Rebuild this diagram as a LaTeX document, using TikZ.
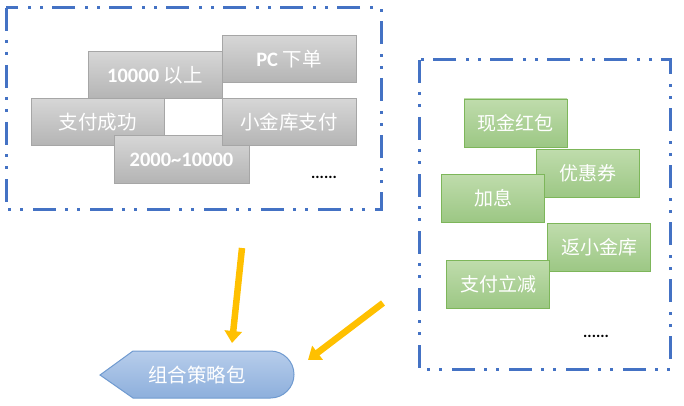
\documentclass[tikz,border=0pt]{standalone}
\usepackage{fontspec}
\setmainfont{Carlito}
\newfontfamily\cjk{Noto Sans CJK SC}
\usetikzlibrary{arrows.meta}
\definecolor{dashblue}{HTML}{4472C4}
\definecolor{gtop}{HTML}{D6D6D6}
\definecolor{gbot}{HTML}{B4B4B4}
\definecolor{gline}{HTML}{A6A6A6}
\definecolor{ntop}{HTML}{BFDCAC}
\definecolor{nbot}{HTML}{9CC784}
\definecolor{nline}{HTML}{7DB65A}
\definecolor{btop}{HTML}{B7CDEB}
\definecolor{bbot}{HTML}{8DAFDC}
\definecolor{bline}{HTML}{6F9AD0}
\definecolor{arrowc}{HTML}{FFC000}
\tikzset{
  groupframe/.style={draw=dashblue, line width=3pt,
    dash pattern=on 23pt off 9pt on 3pt off 9pt on 3pt off 10pt},
  graybox/.style={draw=gline, line width=1pt, top color=gtop, bottom color=gbot,
    minimum width=134pt, minimum height=47pt, inner sep=0pt, text=white,
    font=\fontsize{20.5}{22}\selectfont\bfseries},
  cjkg/.style={},
  greenbox/.style={draw=nline, line width=0.9pt, top color=ntop, bottom color=nbot,
    minimum width=103pt, minimum height=48pt, inner sep=0pt, text=white,
    font=\fontsize{19}{21}\selectfont\cjk},
  dots/.style={font=\fontsize{16}{18}\selectfont\bfseries, inner sep=0pt},
  bigarrow/.style={draw=arrowc, line width=6.5pt,
    -{Triangle[width=17pt,length=12pt]}},
}
\newcommand{\gcjk}[1]{{\fontsize{19.5}{21}\selectfont\cjk\mdseries #1}}
\begin{document}
\begin{tikzpicture}[x=1pt,y=-1pt]
\useasboundingbox (0,0) rectangle (684,406);
% frames
\draw[groupframe] (6,8) rectangle (381,209);
\draw[groupframe] (419,60) rectangle (670,369);
% gray boxes
\node[graybox] (g1) at (155,75.5) {10000 \gcjk{以上}};
\node[graybox] (g2) at (289,59.5) {PC \gcjk{下单}};
\node[graybox, minimum width=133pt] (g3) at (97.5,122.5) {\gcjk{支付成功}};
\node[graybox, minimum width=135pt] (g5) at (181.5,159.5) {2000\char`~10000};
\node[graybox] (g4) at (289,122.5) {\gcjk{小金库支付}};
\node[dots, anchor=base west] (d1) at (311,178) {......};
% green boxes
\node[greenbox] (n1) at (515.5,123) {现金红包};
\node[greenbox] (n2) at (588,173.5) {优惠券};
\node[greenbox] (n3) at (493,198) {加息};
\node[greenbox] (n4) at (599,247.5) {返小金库};
\node[greenbox] (n5) at (498,284.5) {支付立减};
\node[dots, anchor=base west] (d2) at (583,337) {......};
% result shape
\draw[draw=bline, line width=1pt, top color=btop, bottom color=bbot]
  (100,375) -- (133,351) -- (270.5,351) arc (-90:90:23.5) -- (133,398) -- cycle;
\node[text=white, font=\fontsize{19.5}{21}\selectfont\cjk] (res) at (197,375) {组合策略包};
% arrows
\coordinate (a1s) at (242,248);
\coordinate (a1e) at (232,343);
\coordinate (a2s) at (383,303);
\coordinate (a2e) at (308,360);
\draw[bigarrow] (a1s) -- (a1e);
\draw[bigarrow] (a2s) -- (a2e);
\end{tikzpicture}
\end{document}
